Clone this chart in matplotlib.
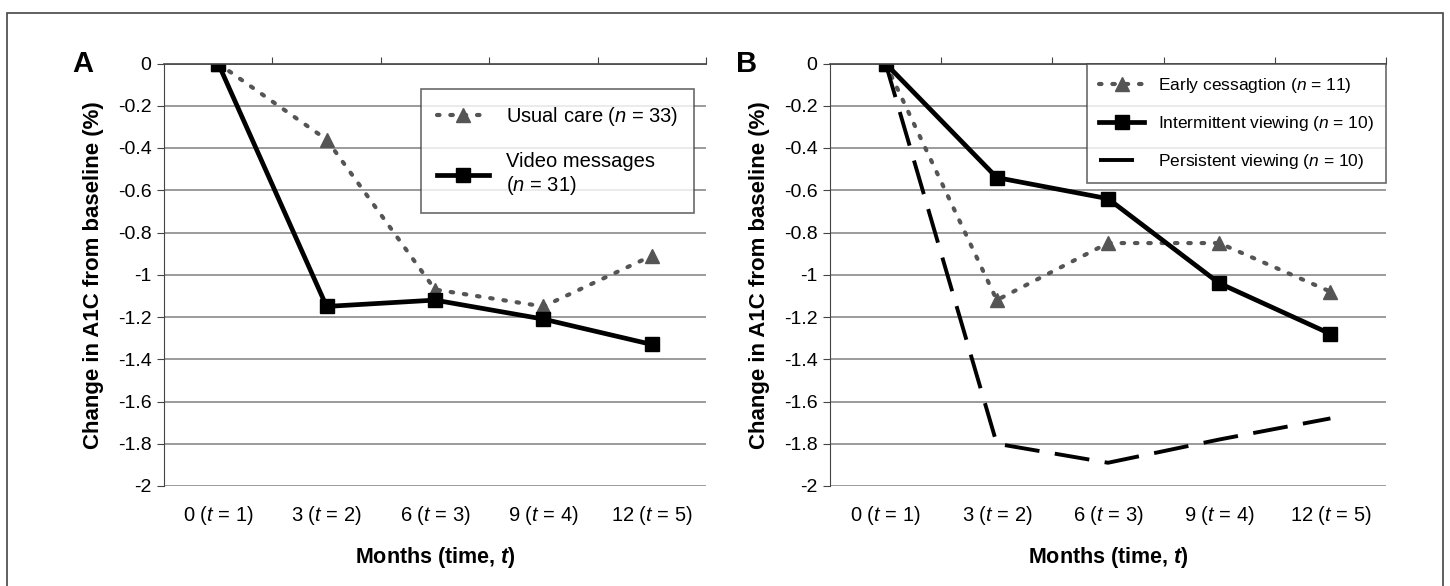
import matplotlib
matplotlib.use("Agg")
from matplotlib import pyplot as plt
from matplotlib.patches import Rectangle

# datos
meses = ["0 ($t$ = 1)", "3 ($t$ = 2)", "6 ($t$ = 3)", "9 ($t$ = 4)", "12 ($t$ = 5)"]
usual_care = [0, -0.36, -1.07, -1.15, -0.91]
video_messages = [0, -1.15, -1.12, -1.21, -1.33]
early_cessation = [0, -1.12, -0.85, -0.85, -1.08]
intermittent = [0, -0.54, -0.64, -1.04, -1.28]
persistent = [0, -1.80, -1.89, -1.78, -1.68]
y_ticks = [0, -0.2, -0.4, -0.6, -0.8, -1, -1.2, -1.4, -1.6, -1.8, -2]

plt.rcParams["font.family"] = ["Liberation Sans", "DejaVu Sans"]
plt.rcParams["mathtext.fontset"] = "custom"
plt.rcParams["mathtext.rm"] = "Liberation Sans"
plt.rcParams["mathtext.it"] = "Liberation Sans:italic"
plt.rcParams["mathtext.bf"] = "Liberation Sans:bold"
plt.rcParams["mathtext.bfit"] = "Liberation Sans:bold:italic"

fig = plt.figure(figsize=(14.5, 5.86), dpi=100)
fig.patches.append(Rectangle((7 / 1450, -0.02), 1436 / 1450, 1 - 13 / 586 + 0.02,
                             transform=fig.transFigure, fill=False,
                             edgecolor="#444444", linewidth=1.2))

dotted = dict(color="#555555", linestyle=(0, (0.6, 2.6)), linewidth=3.0,
              dash_capstyle="round", marker="^", markersize=10,
              markerfacecolor="#555555", markeredgecolor="#555555")
solid = dict(color="black", linewidth=3.4, marker="s", markersize=10,
             markerfacecolor="black", markeredgecolor="black")


def setup_axis(ax, letter):
    x = range(len(meses))
    ax.set_xlim(-0.5, len(meses) - 0.5)
    ax.set_ylim(-2, 0)
    ax.set_yticks(y_ticks)
    ax.set_yticklabels([f"{v:g}" for v in y_ticks], fontsize=14)
    ax.yaxis.grid(True, color="#8a8a8a", linewidth=1.2)
    ax.set_axisbelow(True)
    for s in ["right", "bottom"]:
        ax.spines[s].set_visible(False)
    ax.spines["left"].set_color("#444444")
    ax.spines["top"].set_color("#444444")
    ax.spines["top"].set_linewidth(1.2)
    ax.tick_params(axis="y", length=5, color="#444444", pad=4)
    # marcas del eje x arriba (en el 0), etiquetas abajo
    ax.set_xticks([i + 0.5 for i in range(len(meses))])
    ax.tick_params(axis="x", which="major", top=True, bottom=False,
                   labeltop=False, labelbottom=False, direction="out",
                   length=5, color="#444444")
    for i, m in zip(x, meses):
        ax.text(i, -0.07, m, transform=ax.get_xaxis_transform(),
                ha="center", va="center", fontsize=14.5)
    ax.text(0.5, -0.17, "Months (time, $\\mathbfit{t}$)",
            transform=ax.transAxes, ha="center", va="center",
            fontsize=15.5, fontweight="bold")
    ax.set_ylabel("Change in A1C from baseline (%)", fontsize=16,
                  fontweight="bold", labelpad=10)
    ax.text(-0.15, 1.0, letter, transform=ax.transAxes, ha="center",
            va="center", fontsize=21, fontweight="bold")


axA = fig.add_axes([164 / 1450, 1 - 486 / 586, 542 / 1450, 422.5 / 586])
setup_axis(axA, "A")
x = range(len(meses))
axA.plot(x, usual_care, label="Usual care ($n$ = 33)", **dotted)
axA.plot(x, video_messages, label="Video messages\n($n$ = 31)", **solid)
legA = axA.legend(loc="upper left", bbox_to_anchor=(257 / 542, 1 - 25 / 422.5),
                  fontsize=14.5, frameon=True, fancybox=False, edgecolor="#444444",
                  handlelength=2.6, labelspacing=1.2, borderpad=0.8,
                  numpoints=1, borderaxespad=0)
legA.get_frame().set_linewidth(1.2)

axB = fig.add_axes([830 / 1450, 1 - 486 / 586, 556 / 1450, 422.5 / 586])
setup_axis(axB, "B")
axB.plot(x, early_cessation, label="Early cessagtion ($n$ = 11)", **dotted)
axB.plot(x, intermittent, label="Intermittent viewing ($n$ = 10)", **solid)
axB.plot(x, persistent, color="black", linewidth=2.8, dashes=(9, 4),
         label="Persistent viewing ($n$ = 10)")
legB = axB.legend(loc="upper right", bbox_to_anchor=(1.0, 1.0),
                  fontsize=12.5, frameon=True, fancybox=False, edgecolor="#444444",
                  handlelength=2.6, labelspacing=1.1, borderpad=0.7,
                  numpoints=1, borderaxespad=0)
legB.get_frame().set_linewidth(1.2)

plt.savefig("out.png", dpi=100, facecolor="white")
